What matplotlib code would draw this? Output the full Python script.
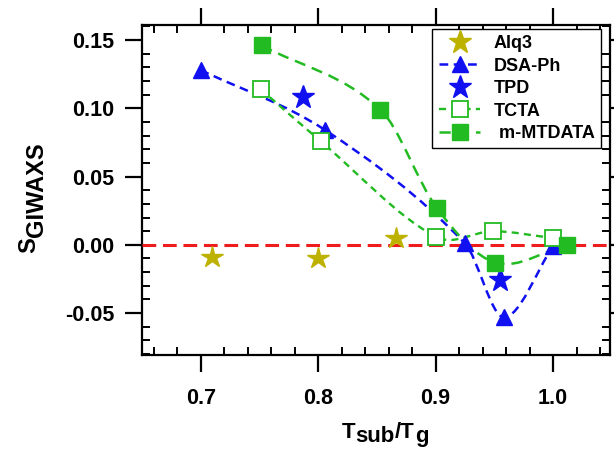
import numpy as np
import matplotlib
matplotlib.use("Agg")
import matplotlib.pyplot as plt
from matplotlib.path import Path
from matplotlib.patches import PathPatch
from matplotlib.lines import Line2D
from matplotlib.transforms import IdentityTransform
from matplotlib.ticker import MultipleLocator, FormatStrFormatter

plt.rcParams["font.family"] = ["Liberation Sans", "DejaVu Sans"]
plt.rcParams["font.weight"] = "bold"

# values
alq3_x = [0.710, 0.800, 0.866]
alq3_y = [-0.009, -0.010, 0.005]

dsa_x = [0.700, 0.806, 0.925, 0.958, 1.000]
dsa_y = [0.128, 0.084, 0.001, -0.053, -0.001]

tpd_x = [0.787, 0.955]
tpd_y = [0.108, -0.026]

tcta_x = [0.751, 0.802, 0.900, 0.949, 1.000]
tcta_y = [0.114, 0.076, 0.006, 0.010, 0.005]

mtdata_x = [0.752, 0.853, 0.901, 0.951, 1.012]
mtdata_y = [0.146, 0.099, 0.027, -0.013, 0.000]

OLIVE = "#bdb200"
BLUE = "#1010f0"
GREEN = "#22bb22"
RED = "#ee1c1c"


def smooth_path(xs, ys):
    """Cubic Hermite curve through the points, drawn as bezier segments."""
    xs = np.asarray(xs, float)
    ys = np.asarray(ys, float)
    n = len(xs)
    m = np.zeros(n)
    for i in range(n):
        if i == 0:
            m[i] = (ys[1] - ys[0]) / (xs[1] - xs[0])
        elif i == n - 1:
            m[i] = (ys[-1] - ys[-2]) / (xs[-1] - xs[-2])
        else:
            m[i] = (ys[i + 1] - ys[i - 1]) / (xs[i + 1] - xs[i - 1])
    verts = [(xs[0], ys[0])]
    codes = [Path.MOVETO]
    for i in range(n - 1):
        h = xs[i + 1] - xs[i]
        verts += [
            (xs[i] + h / 3, ys[i] + m[i] * h / 3),
            (xs[i + 1] - h / 3, ys[i + 1] - m[i + 1] * h / 3),
            (xs[i + 1], ys[i + 1]),
        ]
        codes += [Path.CURVE4] * 3
    return Path(verts, codes)


def rich_label(fig, x0, y0, parts, vertical=False):
    """Origin-style label: pieces of (text, size, drop) written in a row."""
    renderer = fig.canvas.get_renderer()
    pos = x0 if not vertical else y0
    for s, size, drop in parts:
        if vertical:
            t = fig.text(x0 + drop, pos, s, transform=IdentityTransform(),
                         rotation=90, rotation_mode="anchor", ha="left",
                         va="baseline", fontsize=size, fontweight="bold")
            pos += t.get_window_extent(renderer).height
        else:
            t = fig.text(pos, y0 - drop, s, transform=IdentityTransform(),
                         ha="left", va="baseline", fontsize=size,
                         fontweight="bold")
            pos += t.get_window_extent(renderer).width


fig = plt.figure(figsize=(6.14, 4.5), dpi=100)
ax = fig.add_axes([142 / 614, 95 / 450, 468 / 614, 330 / 450])

# smooth guide curves
ax.add_patch(PathPatch(smooth_path(dsa_x, dsa_y), fill=False, edgecolor=BLUE,
                       lw=1.8, linestyle=(0, (3.5, 2.2)), zorder=2))
ax.add_patch(PathPatch(smooth_path(tcta_x, tcta_y), fill=False, edgecolor=GREEN,
                       lw=1.7, linestyle=(0, (3, 2.2)), zorder=2))
ax.add_patch(PathPatch(smooth_path(mtdata_x, mtdata_y), fill=False, edgecolor=GREEN,
                       lw=1.8, linestyle=(0, (4.5, 2.8)), zorder=2))

ax.axhline(0, color=RED, lw=2.2, linestyle=(0, (4.5, 2.2)), zorder=3)

ax.plot(alq3_x, alq3_y, ls="none", marker="*", ms=16, color=OLIVE, zorder=4)
ax.plot(dsa_x, dsa_y, ls="none", marker="^", ms=12, color=BLUE, zorder=4)
ax.plot(tpd_x, tpd_y, ls="none", marker="*", ms=17, color=BLUE, zorder=4)
ax.plot(tcta_x, tcta_y, ls="none", marker="s", ms=11, mfc="white", mec=GREEN,
        mew=1.3, zorder=4)
ax.plot(mtdata_x, mtdata_y, ls="none", marker="s", ms=11, color=GREEN, zorder=4)

ax.set_xlim(0.65, 1.0485)
ax.set_ylim(-0.0807, 0.161)

ax.xaxis.set_major_locator(MultipleLocator(0.1))
ax.xaxis.set_minor_locator(MultipleLocator(0.02))
ax.yaxis.set_major_locator(MultipleLocator(0.05))
ax.yaxis.set_minor_locator(MultipleLocator(0.01))
ax.xaxis.set_major_formatter(FormatStrFormatter("%.1f"))
ax.yaxis.set_major_formatter(FormatStrFormatter("%.2f"))

ax.tick_params(which="major", direction="out", length=12, width=1.6,
               top=True, right=True, labelsize=15.5)
ax.tick_params(which="minor", direction="in", length=5.5, width=1.4,
               top=True, right=True)
ax.tick_params(axis="x", which="major", pad=12)
ax.tick_params(axis="y", which="major", pad=8)
for sp in ax.spines.values():
    sp.set_linewidth(1.6)
for lab in ax.get_xticklabels() + ax.get_yticklabels():
    lab.set_fontweight("bold")

# axis titles with full-size subscripts, as in the original
rich_label(fig, 342, 450 - 438,
           [("T", 16, 0), ("sub", 16, 4), ("/T", 16, 0), ("g", 16, 4)])
rich_label(fig, 35, 450 - 253,
           [("S", 17, 0), ("GIWAXS", 17, 8)], vertical=True)

handles = [
    Line2D([], [], ls="none", marker="*", ms=17, color=OLIVE),
    Line2D([], [], color=BLUE, lw=1.8, ls=(0, (3.5, 2.2)), marker="^", ms=12),
    Line2D([], [], ls="none", marker="*", ms=17, color=BLUE),
    Line2D([], [], color=GREEN, lw=1.7, ls=(0, (3, 2.2)), marker="s", ms=11,
           mfc="white", mec=GREEN, mew=1.3),
    Line2D([], [], color=GREEN, lw=1.8, ls=(0, (4.5, 2.8)), marker="s", ms=11),
]
labels = ["Alq3", "DSA-Ph", "TPD", "TCTA", " m-MTDATA"]
leg = ax.legend(handles, labels, loc="upper right",
                bbox_to_anchor=(1 - 9 / 468, 1 - 4 / 330), borderaxespad=0,
                fancybox=False, edgecolor="black", framealpha=1,
                prop={"weight": "bold", "size": 13}, handlelength=2.3,
                borderpad=0.35, labelspacing=0.3, handletextpad=0.75)
leg.get_frame().set_linewidth(1.0)

fig.savefig("out.png", dpi=100)
